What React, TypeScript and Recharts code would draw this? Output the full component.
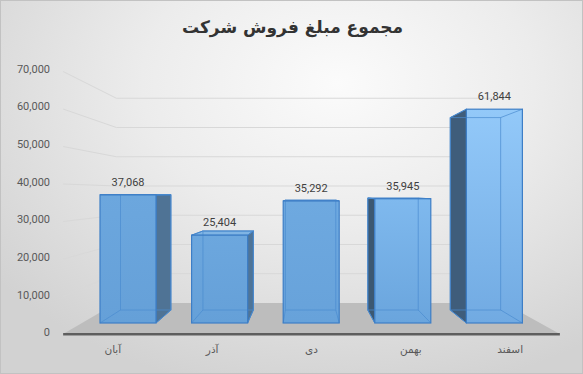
import React from 'react';
import { ComposedChart, Bar, XAxis, YAxis, CartesianGrid, LabelList } from 'recharts';

const months = ['آبان', 'آذر', 'دی', 'بهمن', 'اسفند'];
const sales = [37068, 25404, 35292, 35945, 61844];
const yTicks = [0, 10000, 20000, 30000, 40000, 50000, 60000, 70000];
const title = 'مجموع مبلغ فروش شرکت';

const data = months.map((m, i) => ({ month: m, sales: sales[i] }));

// perspective setup (vanishing point and plane scales relative to bar front faces)
const VX = 305;
const VY = 193;
const FRONT = 1.0846;
const BACK = 0.846;
const DEPTH = 0.9;
const LABEL_VY = 211.4;
const LABEL_S = 1.0896;
const px = (x: number, s: number) => VX + (x - VX) * s;
const py = (y: number, s: number) => VY + (y - VY) * s;

const frontTop = ['#6ca7de', '#6ca7de', '#6ea9e0', '#7fb9ee', '#93c9f9'];
const frontBottom = ['#65a0d8', '#65a0d8', '#67a2da', '#6aa5dd', '#71aae2'];
const sideFill = ['#4f7395', '#4f7497', '#4d7192', '#3c5872', '#3f5d7b'];
const EDGE = '#3d7ec6';
const fmt = (v: number) => v.toLocaleString('en-US');

function Bar3D(props: any) {
  const { x, y, width, height, index } = props;
  const l = x, r = x + width, t = y, b = y + height;
  const bl = px(l, DEPTH), br = px(r, DEPTH), bt = py(t, DEPTH), bb = py(b, DEPTH);
  const gid = `bargrad-${index}`;
  const parts: any[] = [];
  if (br > r) {
    parts.push(<polygon key="rs" points={`${r},${t} ${br},${bt} ${br},${bb} ${r},${b}`} fill={sideFill[index]} stroke={EDGE} strokeWidth={1} />);
  }
  if (bl < l) {
    parts.push(<polygon key="ls" points={`${l},${t} ${bl},${bt} ${bl},${bb} ${l},${b}`} fill={sideFill[index]} stroke={EDGE} strokeWidth={1} />);
  }
  if (bt < t) {
    parts.push(<polygon key="tp" points={`${l},${t} ${bl},${bt} ${br},${bt} ${r},${t}`} fill="#7fb4e4" stroke={EDGE} strokeWidth={1} />);
  }
  return (
    <g>
      <defs>
        <linearGradient id={gid} x1="0" y1="0" x2="0" y2="1">
          <stop offset="0%" stopColor={frontTop[index]} />
          <stop offset="100%" stopColor={frontBottom[index]} />
        </linearGradient>
      </defs>
      {parts}
      <rect x={l} y={t} width={width} height={height} fill={`url(#${gid})`} />
      <g stroke="#4a8bd0" strokeOpacity={0.7} strokeWidth={1} fill="none">
        <rect x={bl} y={bt} width={br - bl} height={bb - bt} />
        <line x1={l} y1={b} x2={bl} y2={bb} />
        <line x1={r} y1={b} x2={br} y2={bb} />
        <line x1={l} y1={t} x2={bl} y2={bt} />
        <line x1={r} y1={t} x2={br} y2={bt} />
      </g>
      <rect x={l} y={t} width={width} height={height} fill="none" stroke={EDGE} strokeWidth={1.2} />
    </g>
  );
}

function GridLine(p: any) {
  const { x1, x2, y1, key } = p;
  const bottom = p.y + p.height;
  const fl = px(x1, FRONT), fr = px(x2, FRONT), fy = py(y1, FRONT);
  const bl = px(x1, BACK), br = px(x2, BACK), by = py(y1, BACK);
  if (Math.abs(y1 - bottom) < 1) {
    return (
      <g key={key}>
        <polygon points={`${fl},${fy} ${fr},${fy} ${br},${by} ${bl},${by}`} fill="#bdbdbd" />
        <line x1={fl} y1={fy} x2={fr} y2={fy} stroke="#5e5e5e" strokeWidth={2} />
        <line x1={fl} y1={fy + 1.5} x2={fr} y2={fy + 1.5} stroke="#9a9a9a" strokeWidth={1} />
      </g>
    );
  }
  return (
    <polyline key={key} points={`${fl},${fy} ${bl},${by} ${br},${by}`} fill="none" stroke="#d8d8d8" strokeWidth={1} />
  );
}

function YTick(props: any) {
  const { x, y, payload } = props;
  return (
    <text x={x} y={LABEL_VY + (y - LABEL_VY) * LABEL_S} textAnchor="end" dominantBaseline="central" fontSize={11} fontFamily="Roboto, sans-serif" fill="#595959">
      {fmt(payload.value)}
    </text>
  );
}

function XTick(props: any) {
  const { x, y, payload } = props;
  return (
    <text x={px(x, FRONT)} y={y + 22} textAnchor="middle" fontSize={10.5} fontFamily="DejaVu Sans, sans-serif" fill="#595959">
      {payload.value}
    </text>
  );
}

export default function App() {
  return (
    <div
      style={{
        position: 'absolute',
        left: 0,
        top: 0,
        width: 583,
        height: 374,
        boxSizing: 'border-box',
        border: '1px solid #c2c2c2',
        background: 'radial-gradient(ellipse 75% 85% at 58% 22%, #fbfbfb 0%, #ececec 45%, #d2d2d2 100%)',
        overflow: 'hidden',
      }}
    >
      <div
        style={{
          position: 'absolute',
          left: 0,
          top: 16,
          width: 583,
          textAlign: 'center',
          fontFamily: 'DejaVu Sans, sans-serif',
          fontWeight: 'bold',
          fontSize: 17,
          color: '#333333',
          direction: 'rtl',
        }}
      >
        {title}
      </div>
      <div style={{ position: 'absolute', left: -1, top: -1 }}>
        <ComposedChart width={583} height={374} data={data} margin={{ top: 81, right: 43, bottom: 21, left: 0 }}>
          <CartesianGrid vertical={false} horizontal={GridLine as any} />
          <XAxis dataKey="month" axisLine={false} tickLine={false} height={30} interval={0} tick={<XTick />} />
          <YAxis
            domain={[0, 70000]}
            ticks={yTicks}
            width={82}
            axisLine={false}
            tickLine={false}
            tickMargin={26}
            tick={<YTick />}
            interval={0}
          />
          <Bar dataKey="sales" barSize={56} shape={<Bar3D />} isAnimationActive={false}>
            <LabelList dataKey="sales" position="top" offset={9} formatter={(v: any) => fmt(v)} style={{ fontSize: 11, fontFamily: 'Roboto, sans-serif', fill: '#404040' }} />
          </Bar>
        </ComposedChart>
      </div>
    </div>
  );
}
